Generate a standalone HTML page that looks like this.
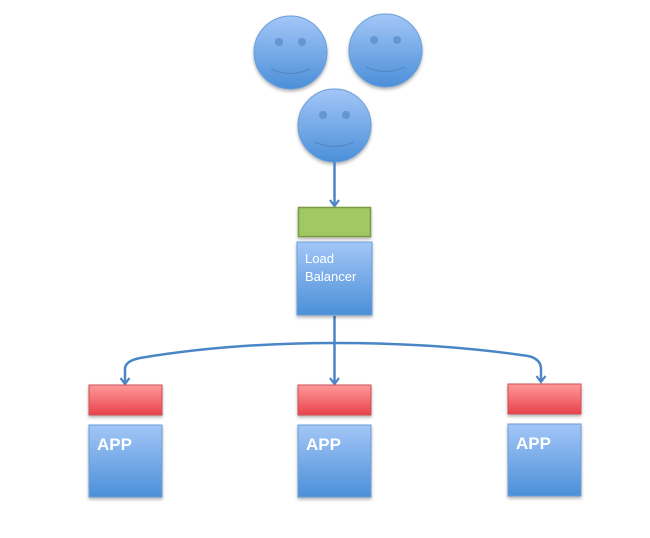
<!DOCTYPE html>
<html><head><meta charset="utf-8"><style>
html,body{margin:0;padding:0;background:#fff;}
svg{display:block;}
text{font-family:"Liberation Sans",sans-serif;fill:#fff;}
</style></head><body>
<svg width="650" height="538" viewBox="0 0 650 538" xmlns="http://www.w3.org/2000/svg">
<defs>
<linearGradient id="b" x1="0" y1="0" x2="0" y2="1"><stop offset="0" stop-color="#a3c6f7"/><stop offset="1" stop-color="#4b8fd8"/></linearGradient>
<linearGradient id="r" x1="0" y1="0" x2="0" y2="1"><stop offset="0" stop-color="#f99"/><stop offset="1" stop-color="#e8424a"/></linearGradient>
<filter id="s" x="-20%" y="-20%" width="140%" height="140%"><feDropShadow dx="0" dy="2" stdDeviation="1.5" flood-color="#000" flood-opacity="0.3"/></filter>
<marker id="a" markerWidth="12" markerHeight="12" refX="8" refY="6" orient="auto" markerUnits="userSpaceOnUse" viewBox="0 0 12 12"><path d="M2,1.5 L8,6 L2,10.5" fill="none" stroke="#4a86c6" stroke-width="2.2"/></marker>
</defs>
<g id="faces" filter="url(#s)">
<g><circle cx="290.5" cy="52.5" r="36.5" fill="url(#b)" stroke="#6a9fd8" stroke-width="1"/>
<circle cx="279" cy="42" r="4" fill="#5b8fcc" opacity="0.8"/><circle cx="302" cy="42" r="4" fill="#5b8fcc" opacity="0.8"/>
<path d="M271,69 Q290,78 310,69" fill="none" stroke="#4f87c5" stroke-width="1"/></g>
<g><circle cx="385.5" cy="50.5" r="36.5" fill="url(#b)" stroke="#6a9fd8" stroke-width="1"/>
<circle cx="374" cy="40" r="4" fill="#5b8fcc" opacity="0.8"/><circle cx="397" cy="40" r="4" fill="#5b8fcc" opacity="0.8"/>
<path d="M366,67 Q385,76 405,67" fill="none" stroke="#4f87c5" stroke-width="1"/></g>
<g><circle cx="334.5" cy="125.5" r="36.5" fill="url(#b)" stroke="#6a9fd8" stroke-width="1"/>
<circle cx="323" cy="115" r="4" fill="#5b8fcc" opacity="0.8"/><circle cx="346" cy="115" r="4" fill="#5b8fcc" opacity="0.8"/>
<path d="M315,142 Q334,151 354,142" fill="none" stroke="#4f87c5" stroke-width="1"/></g>
</g>
<g stroke="#4a86c6" stroke-width="2.5" fill="none">
<line x1="334.5" y1="162" x2="334.5" y2="206" marker-end="url(#a)"/>
<line x1="334.5" y1="316" x2="334.5" y2="384" marker-end="url(#a)"/>
<path d="M335,343 Q230,343 140,358 Q125,361 125,369 L125,384" marker-end="url(#a)"/>
<path d="M335,343 Q440,343 528,356 Q541,359 541,369 L541,382" marker-end="url(#a)"/>
</g>
<g filter="url(#s)">
<rect x="298.5" y="207.5" width="72" height="29" fill="#a1c963" stroke="#7a9a45" stroke-width="1.5"/>
<rect x="297" y="242" width="75" height="73" fill="url(#b)" stroke="#6a9fd8"/>
<rect x="89" y="385" width="73" height="30" fill="url(#r)" stroke="#d05058"/>
<rect x="298" y="385" width="73" height="30" fill="url(#r)" stroke="#d05058"/>
<rect x="508" y="384" width="73" height="30" fill="url(#r)" stroke="#d05058"/>
<rect x="89" y="425" width="73" height="72" fill="url(#b)" stroke="#6a9fd8"/>
<rect x="298" y="425" width="73" height="72" fill="url(#b)" stroke="#6a9fd8"/>
<rect x="508" y="424" width="73" height="72" fill="url(#b)" stroke="#6a9fd8"/>
</g>
<text x="305" y="263" font-size="13">Load</text>
<text x="305" y="281" font-size="13">Balancer</text>
<text x="97" y="450" font-size="17" font-weight="bold">APP</text>
<text x="306" y="450" font-size="17" font-weight="bold">APP</text>
<text x="516" y="449" font-size="17" font-weight="bold">APP</text>
</svg>
</body></html>
